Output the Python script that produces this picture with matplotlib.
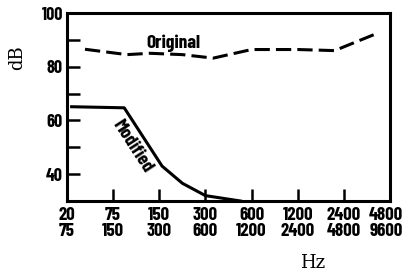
import matplotlib.pyplot as plt
from matplotlib.transforms import ScaledTranslation

# band labels (two rows: lower / upper edge of each octave band)
band_lo = ['20', '75', '150', '300', '600', '1200', '2400', '4800']
band_hi = ['75', '150', '300', '600', '1200', '2400', '4800', '9600']

# curves (x in band-index units)
orig_x = [0.39, 1.3, 1.8, 2.5, 3.17, 4.0, 5.0, 5.8, 6.66]
orig_db = [86.5, 84.5, 85.0, 84.5, 83.2, 86.4, 86.4, 86.0, 92.0]
mod_x = [0.1, 1.24, 2.06, 2.5, 3.0, 3.76]
mod_db = [65.1, 64.7, 43.0, 36.6, 32.0, 30.0]

cond = ['Barlow Condensed', 'DejaVu Sans']

fig = plt.figure(figsize=(4.04, 2.8), dpi=100)
ax = fig.add_axes([67 / 404, 1 - 201 / 280, 323 / 404, 188 / 280])

ax.plot(orig_x, orig_db, color='black', lw=2.2, ls=(0, (5, 2)))
ax.plot(mod_x, mod_db, color='black', lw=2.2)

ax.set_xlim(0, 7)
ax.set_ylim(30, 100)
ax.set_xticks(range(len(band_lo)))
ax.set_xticklabels([f'{a}\n{b}' for a, b in zip(band_lo, band_hi)],
                   family=cond, weight='bold', fontsize=13.5, linespacing=0.98)
ax.set_yticks([40, 50, 60, 70, 80, 90, 100])
ax.set_yticklabels(['40', '', '60', '', '80', '', '100'],
                   family=cond, weight='bold', fontsize=13)
ax.tick_params(axis='both', direction='in', length=9, width=1.8, pad=3)
ax.tick_params(axis='x', pad=4)
for s in ax.spines.values():
    s.set_linewidth(2.2)

# nudge the last band label so it stays inside the figure
last = ax.get_xticklabels()[-1]
last.set_transform(last.get_transform() +
                   ScaledTranslation(-3 / 72, 0, fig.dpi_scale_trans))

ax.text(2.3, 88.6, 'Original', family=cond, weight='bold', fontsize=14,
        ha='center', va='center')
ax.text(1.42, 50.5, 'Modified', family=cond, weight='bold', fontsize=14,
        ha='center', va='center', rotation=-57)

fig.text(17 / 404, 1 - 58 / 280, 'dB', family='DejaVu Serif', fontsize=13,
         rotation=90, ha='center', va='center')
fig.text(313 / 404, 1 - 263 / 280, 'Hz', family='DejaVu Serif', fontsize=13,
         ha='center', va='center')

fig.savefig('out.png', dpi=100)
